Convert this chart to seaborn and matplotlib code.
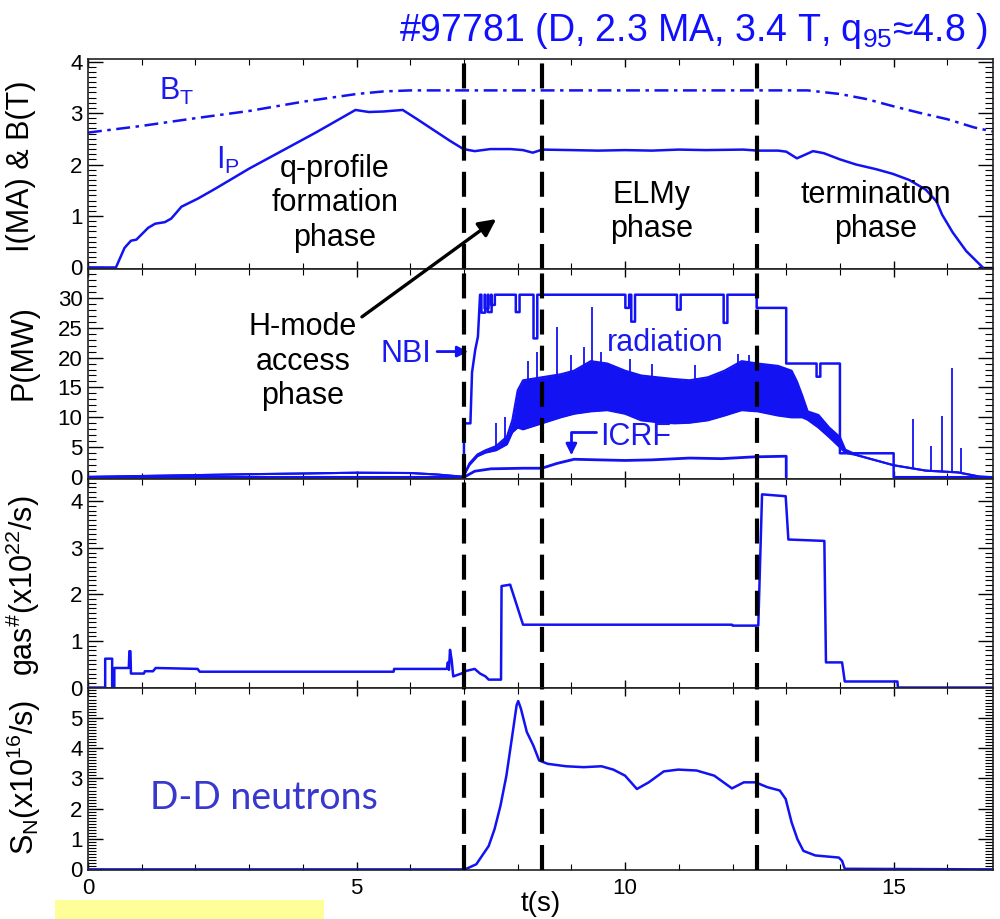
import numpy as np
import matplotlib
matplotlib.use("Agg")
import matplotlib.pyplot as plt
import seaborn as sns
from matplotlib.patches import Rectangle
from matplotlib.ticker import MultipleLocator

# ---------------- discharge #97781 time traces ----------------
# phase boundaries (s)
phase_t = [7.0, 8.45, 12.45]

# toroidal field B_T (T)
bt_t = [0.0, 1.0, 2.0, 3.0, 4.0, 5.0, 5.5, 6.0, 13.4, 14.0, 14.5, 15.0, 15.5, 16.0, 16.5, 16.85]
bt_v = [2.62, 2.75, 2.90, 3.04, 3.22, 3.37, 3.42, 3.44, 3.44, 3.37, 3.27, 3.13, 3.00, 2.88, 2.72, 2.64]

# plasma current I_P (MA)
ip_t = [0, 0.52, 0.68, 0.8, 0.9, 1.12, 1.25, 1.43, 1.55, 1.74, 2.05, 2.37, 3.0, 3.62, 4.24,
        4.98, 5.23, 5.5, 5.86, 6.1, 6.42, 6.74, 6.99, 7.2, 7.49, 7.87, 8.1, 8.28, 8.46, 9.0,
        9.5, 10.0, 10.5, 11.0, 11.5, 12.2, 12.47, 12.85, 13.0, 13.2, 13.5, 13.7, 14.0, 14.3,
        14.67, 14.98, 15.29, 15.6, 15.8, 15.9, 16.1, 16.35, 16.66]
ip_v = [0, 0, 0.38, 0.52, 0.54, 0.77, 0.85, 0.88, 0.95, 1.18, 1.34, 1.53, 1.92, 2.27, 2.62,
        3.06, 3.02, 3.03, 3.06, 2.9, 2.68, 2.46, 2.3, 2.26, 2.3, 2.3, 2.28, 2.23, 2.29, 2.28,
        2.27, 2.28, 2.27, 2.29, 2.28, 2.29, 2.27, 2.27, 2.25, 2.12, 2.26, 2.22, 2.1, 2.0,
        1.91, 1.82, 1.7, 1.51, 1.28, 1.03, 0.68, 0.32, 0.0]

# NBI power (MW): step levels and short beam-trip dips
nbi_t = [0.0, 7.0, 7.0, 7.12, 7.15, 7.21, 7.26, 7.30, 12.45, 12.45, 13.0, 13.0, 14.0, 14.0, 15.0, 15.0, 16.85]
nbi_p = [0.0, 0.0, 9.0, 9.0, 17.5, 21.3, 23.5, 30.5, 30.5, 28.3, 28.3, 19.0, 19.0, 4.0, 4.0, 0.0, 0.0]
nbi_dip_t = [7.36, 7.42, 7.48, 7.54, 8.0, 8.33, 10.04, 10.15, 11.0, 11.87, 13.6]
nbi_dip_p = [27.5, 28.2, 27.6, 28.8, 27.6, 23.2, 28.3, 26.0, 28.0, 25.8, 16.8]

# ICRF power (MW)
icrf_t = [7.0, 7.2, 7.5, 8.1, 8.45, 8.73, 9.05, 9.5, 10.0, 10.5, 11.2, 11.8, 12.4, 12.95, 13.0, 13.0]
icrf_p = [0.0, 1.0, 1.4, 1.5, 1.5, 2.3, 3.0, 2.9, 2.8, 2.9, 3.2, 3.1, 3.4, 3.5, 3.5, 0.0]

# radiated power (MW): lower / upper envelope of the ELM-modulated signal
rad_t = [0, 1, 2, 3, 4, 5, 6, 6.5, 6.95, 7.0, 7.1, 7.25, 7.4, 7.6, 7.8, 7.9, 8.0, 8.1, 8.45,
         8.8, 9.05, 9.36, 9.67, 10.0, 10.3, 10.6, 10.92, 11.2, 11.54, 11.85, 12.17, 12.47,
         12.85, 13.1, 13.2, 13.3, 13.4, 13.6, 13.8, 14.0, 14.1, 14.35, 15.0, 15.6, 16.2, 16.6, 16.85]
rad_lo = [0.05, 0.2, 0.35, 0.5, 0.62, 0.75, 0.7, 0.45, 0.1, 0.3, 2.0, 3.5, 4.1, 4.5, 5.5, 7.5,
          8.3, 8.0, 9.0, 10.0, 10.6, 11.0, 11.2, 10.6, 9.5, 9.2, 9.0, 9.1, 9.5, 10.3, 11.2, 11.0,
          10.3, 10.0, 10.0, 10.0, 9.6, 8.3, 6.7, 5.0, 4.1, 3.6, 2.0, 1.1, 0.8, 0.1, 0.0]
rad_hi = [0.05, 0.2, 0.35, 0.5, 0.62, 0.75, 0.7, 0.45, 0.1, 0.3, 2.3, 3.8, 4.5, 5.2, 6.8, 9.5,
          14.5, 16.2, 16.7, 17.2, 17.8, 19.4, 19.0, 17.8, 17.0, 16.7, 16.4, 16.2, 16.7, 17.8,
          19.4, 19.0, 18.6, 17.8, 16.0, 13.6, 11.0, 10.4, 8.3, 6.7, 4.6, 3.6, 2.0, 1.1, 0.8, 0.1, 0.0]
# isolated radiation bursts (s, MW)
spike_t = [7.6, 7.77, 8.2, 8.36, 8.73, 9.0, 9.23, 9.39, 9.55, 10.1, 10.5, 11.3, 12.1, 12.3,
           15.36, 15.7, 15.9, 16.08, 16.25]
spike_p = [9.0, 10.0, 19.5, 21.0, 25.1, 20.5, 21.8, 28.5, 21.0, 19.8, 19.0, 18.8, 20.6, 20.4,
           9.7, 5.2, 10.3, 18.3, 4.8]

# gas puff rate (1e22/s)
gas_t = [0.0, 0.32, 0.32, 0.45, 0.45, 0.49, 0.49, 0.76, 0.77, 0.79, 0.80, 1.04, 1.06, 1.21,
         1.26, 2.04, 2.08, 5.69, 5.70, 6.68, 6.70, 6.72, 6.74, 6.77, 6.80, 6.95, 7.05, 7.20,
         7.30, 7.40, 7.46, 7.50, 7.69, 7.70, 7.86, 8.10, 11.99, 12.0, 12.48, 12.55, 12.99,
         13.04, 13.71, 13.74, 14.04, 14.09, 15.07, 15.08, 16.85]
gas_v = [0.0, 0.0, 0.62, 0.62, 0.0, 0.0, 0.42, 0.42, 0.78, 0.78, 0.30, 0.30, 0.35, 0.35,
         0.42, 0.40, 0.34, 0.34, 0.40, 0.40, 0.54, 0.38, 0.81, 0.60, 0.24, 0.30, 0.36, 0.40,
         0.30, 0.24, 0.17, 0.17, 0.17, 2.18, 2.21, 1.35, 1.35, 1.33, 1.33, 4.15, 4.11, 3.18,
         3.15, 0.54, 0.54, 0.13, 0.13, 0.0, 0.0]

# D-D neutron rate (1e16/s)
sn_t = [0, 7.02, 7.23, 7.46, 7.57, 7.68, 7.79, 7.9, 7.98, 8.01, 8.06, 8.17, 8.29, 8.4, 8.56,
        8.9, 9.23, 9.56, 9.78, 10.0, 10.22, 10.44, 10.72, 10.99, 11.33, 11.66, 11.99, 12.21,
        12.43, 12.65, 12.88, 12.99, 13.1, 13.21, 13.32, 13.54, 13.98, 14.04, 14.09, 16.85]
sn_v = [0, 0, 0.17, 0.77, 1.33, 2.1, 3.09, 4.42, 5.41, 5.55, 5.3, 4.53, 4.09, 3.59, 3.48,
        3.4, 3.37, 3.4, 3.29, 3.09, 2.65, 2.87, 3.23, 3.29, 3.26, 3.09, 2.67, 2.87, 2.87,
        2.71, 2.6, 2.32, 1.55, 0.99, 0.61, 0.46, 0.39, 0.28, 0.02, 0.0]

x_ticks = [0, 5, 10, 15]


def with_dips(ts, ps, dts, dps, w=0.07):
    """Insert narrow rectangular dips into the flat parts of a step trace."""
    out_t, out_p = [ts[0]], [ps[0]]
    for i in range(1, len(ts)):
        t0, t1 = ts[i - 1], ts[i]
        if ps[i - 1] == ps[i]:
            for dt, dp in zip(dts, dps):
                if t0 < dt < t1:
                    lvl = ps[i]
                    out_t += [dt - w / 2, dt - w / 2, dt + w / 2, dt + w / 2]
                    out_p += [lvl, dp, dp, lvl]
        out_t.append(t1)
        out_p.append(ps[i])
    return out_t, out_p


# ---------------- style ----------------
sns.set_theme(style="ticks", rc={
    "xtick.direction": "in", "ytick.direction": "in",
    "xtick.top": True, "ytick.right": True,
    "xtick.major.size": 6, "xtick.minor.size": 4,
    "ytick.major.size": 11, "ytick.minor.size": 5.5,
    "xtick.major.width": 1.0, "ytick.major.width": 1.0,
    "xtick.minor.width": 0.8, "ytick.minor.width": 0.8,
    "axes.linewidth": 1.2, "axes.edgecolor": "black",
    "text.color": "black", "axes.labelcolor": "black",
    "xtick.color": "black", "ytick.color": "black",
    "lines.scale_dashes": False,
    "mathtext.default": "regular",
})
plt.rcParams["font.family"] = ["Liberation Sans", "DejaVu Sans"]

BLUE = "#1212F2"
TXT_BLUE = "#1A1AEE"
TICK_FS = 16
LABEL_FS = 22
NOTE_FS = 22

fig = plt.figure(figsize=(10, 9.19), dpi=100)
L, W = 0.088, 0.905
ax1 = fig.add_axes([L, 0.70729, W, 0.22851])
ax2 = fig.add_axes([L, 0.47878, W, 0.22851])
ax3 = fig.add_axes([L, 0.25136, W, 0.22742])
ax4 = fig.add_axes([L, 0.05332, W, 0.19804])
axes = [ax1, ax2, ax3, ax4]

line_kw = dict(estimator=None, sort=False, color=BLUE, legend=False)

# panel 1: current and field
sns.lineplot(x=ip_t, y=ip_v, ax=ax1, lw=1.8, **line_kw)
sns.lineplot(x=bt_t, y=bt_v, ax=ax1, lw=1.8, linestyle=(0, (10, 4, 2.5, 4)), **line_kw)

# panel 2: heating and radiated power
ax2.fill_between(rad_t, rad_lo, rad_hi, color=BLUE, lw=0)
sns.lineplot(x=rad_t, y=rad_lo, ax=ax2, lw=1.5, **line_kw)
sns.lineplot(x=rad_t, y=rad_hi, ax=ax2, lw=1.5, **line_kw)
ax2.vlines(spike_t, np.interp(spike_t, rad_t, rad_lo), spike_p, color=BLUE, lw=1.3)
nbi_tt, nbi_pp = with_dips(nbi_t, nbi_p, nbi_dip_t, nbi_dip_p)
sns.lineplot(x=nbi_tt, y=nbi_pp, ax=ax2, lw=1.8, **line_kw)
sns.lineplot(x=icrf_t, y=icrf_p, ax=ax2, lw=2.0, **line_kw)

# panel 3: gas fuelling
sns.lineplot(x=gas_t, y=gas_v, ax=ax3, lw=1.8, **line_kw)

# panel 4: neutron rate
sns.lineplot(x=sn_t, y=sn_v, ax=ax4, lw=1.8, **line_kw)

# phase boundaries through every panel
for ax in axes:
    for t in phase_t:
        ax.axvline(t, color="black", lw=3.0, linestyle=(0, (18, 8)), zorder=5)

# ---------------- axes ----------------
ylims = [(-0.03, 4.05), (-0.3, 34.8), (-0.01, 4.48), (-0.02, 5.98)]
ymaj = [1, 5, 1, 1]
ymin = [0.1, 1, 0.1, 0.1]
for ax, yl, mj, mn in zip(axes, ylims, ymaj, ymin):
    ax.set_xlim(0, 16.85)
    ax.set_ylim(*yl)
    ax.xaxis.set_major_locator(MultipleLocator(5))
    ax.xaxis.set_minor_locator(MultipleLocator(1))
    ax.yaxis.set_major_locator(MultipleLocator(mj))
    ax.yaxis.set_minor_locator(MultipleLocator(mn))
    ax.tick_params(axis="both", which="both", top=True, right=True, labelsize=TICK_FS,
                   colors="black")
    ax.tick_params(axis="y", pad=4)
    ax.tick_params(axis="x", labelbottom=False)
    ax.set_xlabel("")
    ax.set_ylabel("")
    for s in ax.spines.values():
        s.set_color("#222222")

ax4.tick_params(axis="x", labelbottom=True, pad=6)
ax4.set_xticks(x_ticks)
ax4.set_xlabel("t(s)", fontsize=20, labelpad=-6)

ax1.set_ylabel("I(MA) & B(T)", fontsize=LABEL_FS)
ax2.set_ylabel("P(MW)", fontsize=LABEL_FS)
ax3.set_ylabel("gas$^{\\#}$(x10$^{22}$/s)", fontsize=LABEL_FS)
ax4.set_ylabel("S$_N$(x10$^{16}$/s)", fontsize=LABEL_FS)
ax1.yaxis.set_label_coords(-0.057, 0.49)
ax2.yaxis.set_label_coords(-0.055, 0.60)
ax3.yaxis.set_label_coords(-0.051, 0.49)
ax4.yaxis.set_label_coords(-0.050, 0.51)

# ---------------- annotations ----------------
ax1.text(1.65, 3.42, "B$_T$", color=TXT_BLUE, fontsize=NOTE_FS, ha="center", va="center")
ax1.text(2.6, 2.08, "I$_P$", color=TXT_BLUE, fontsize=NOTE_FS, ha="center", va="center")
ax1.text(4.6, 1.25, "q-profile\nformation\nphase", fontsize=NOTE_FS, ha="center",
         va="center", linespacing=1.2)
ax1.text(10.5, 1.08, "ELMy\nphase", fontsize=NOTE_FS, ha="center", va="center",
         linespacing=1.2)
ax1.text(14.66, 1.08, "termination\nphase", fontsize=NOTE_FS, ha="center", va="center",
         linespacing=1.2)

ax2.text(4.0, 19.3, "H-mode\naccess\nphase", fontsize=NOTE_FS, ha="center", va="center",
         linespacing=1.2)
ax2.annotate("", xy=(7.6, 0.94), xycoords=ax1.transData, xytext=(5.1, 26.8),
             textcoords="data", annotation_clip=False,
             arrowprops=dict(arrowstyle="-|>", color="black", lw=2.4, mutation_scale=26,
                             shrinkA=0, shrinkB=0))

ax2.text(5.92, 20.6, "NBI", color=TXT_BLUE, fontsize=NOTE_FS, ha="center", va="center")
ax2.annotate("", xy=(7.08, 21.0), xytext=(6.5, 21.0),
             arrowprops=dict(arrowstyle="-|>", color=BLUE, lw=2.0, mutation_scale=16,
                             shrinkA=0, shrinkB=0))
ax2.text(10.75, 22.4, "radiation", color=TXT_BLUE, fontsize=NOTE_FS, ha="center",
         va="center")
ax2.text(10.2, 6.8, "ICRF", color=TXT_BLUE, fontsize=NOTE_FS, ha="center", va="center")
ax2.annotate("", xy=(9.0, 3.7), xytext=(9.46, 7.5),
             arrowprops=dict(arrowstyle="-|>", color=BLUE, lw=2.0, mutation_scale=16,
                             shrinkA=0, shrinkB=0,
                             connectionstyle="angle,angleA=180,angleB=90,rad=0"))

ax4.text(3.27, 2.37, "D-D neutrons", color="#3838CC", fontsize=27, ha="center",
         va="center", family=["Lato", "DejaVu Sans"])

fig.text(0.988, 0.966, "#97781 (D, 2.3 MA, 3.4 T, q$_{95}$\u22484.8 )", color="#1010FF",
         fontsize=27, ha="right", va="center")

fig.patches.append(Rectangle((0.055, 0.0), 0.269, 0.0207, transform=fig.transFigure,
                             facecolor="#FFFF99", edgecolor="none", zorder=0))

fig.savefig("out.png", dpi=100)
